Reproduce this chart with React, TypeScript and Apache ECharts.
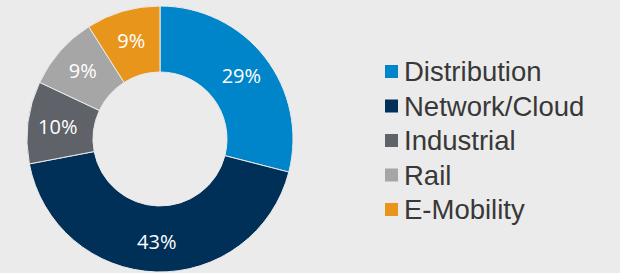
import React, { useEffect, useRef } from "react";
import * as echarts from "echarts";

const categories = ["Distribution", "Network/Cloud", "Industrial", "Rail", "E-Mobility"];
const shares = [29, 43, 10, 9, 9];
const colors = ["#0085CA", "#003057", "#5F6369", "#A6A6A6", "#E8951C"];

export default function App() {
  const ref = useRef<HTMLDivElement>(null);
  useEffect(() => {
    document.body.style.margin = "0";
    const chart = echarts.init(ref.current!, null, { renderer: "svg" });
    chart.setOption({
      animation: false,
      backgroundColor: "#EBEBEB",
      legend: {
        orient: "vertical",
        left: 383,
        top: 56.5,
        padding: 0,
        icon: "rect",
        itemWidth: 15,
        itemHeight: 15,
        itemGap: 4.5,
        selectedMode: false,
        data: categories,
        textStyle: {
          fontFamily: "Liberation Sans",
          fontSize: 27.5,
          lineHeight: 30,
          color: "#383838",
        },
      },
      series: [
        {
          type: "pie",
          center: [160, 139],
          radius: [67, 133],
          startAngle: 90,
          clockwise: true,
          itemStyle: { borderColor: "#EBEBEB", borderWidth: 1 },
          label: {
            position: "inside",
            formatter: "{c}%",
            color: "#FFFFFF",
            fontFamily: "Open Sans",
            fontSize: 20,
          },
          labelLine: { show: false },
          emphasis: { disabled: true },
          data: categories.map((name, i) => ({
            name,
            value: shares[i],
            itemStyle: { color: colors[i] },
          })),
        },
      ],
    });
    return () => chart.dispose();
  }, []);
  return <div ref={ref} style={{ width: 620, height: 273 }} />;
}
